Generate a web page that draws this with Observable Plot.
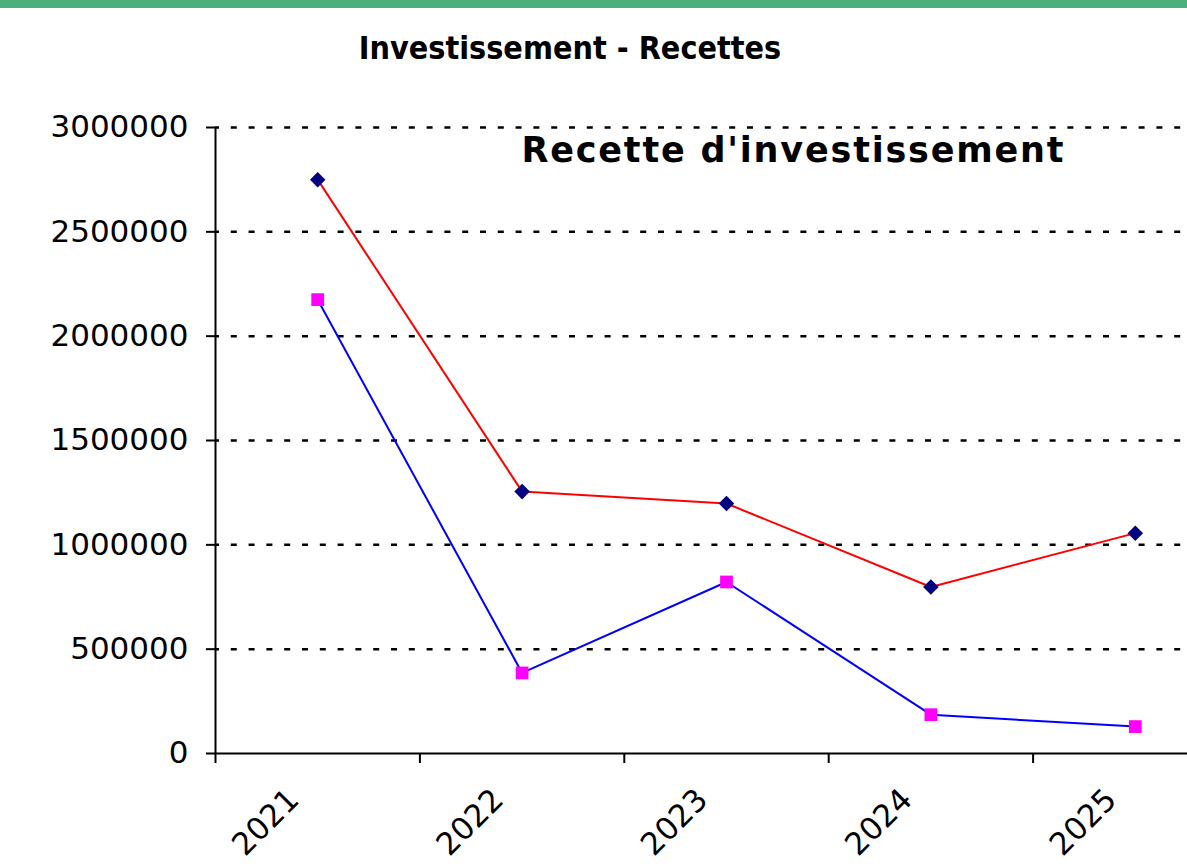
<!DOCTYPE html>
<html>
<head>
<meta charset="utf-8">
<script src="https://cdn.jsdelivr.net/npm/d3@7"></script>
<script src="https://cdn.jsdelivr.net/npm/@observablehq/plot@0.6"></script>
<style>
  html, body { margin: 0; padding: 0; background: #fff; overflow: hidden; }
  #page { width: 1187px; height: 866px; position: relative; overflow: hidden; }
  #bar { height: 8px; background: #4cb07e; }
  #title {
    height: 92px; box-sizing: border-box; padding-top: 24px;
    width: 1140px; text-align: center;
    font-family: "DejaVu Sans Condensed", "DejaVu Sans", sans-serif;
    font-stretch: condensed; font-weight: bold; font-size: 32px; line-height: 1; color: #000;
  }
  #chart svg { display: block; overflow: hidden; }
</style>
</head>
<body>
<div id="page">
  <div id="bar"></div>
  <div id="title">Investissement - Recettes</div>
  <div id="chart"></div>
</div>
<script>
// ---- data ----
const years = [2021, 2022, 2023, 2024, 2025];
const seriesRed = [2750000, 1255000, 1198000, 798000, 1056000];   // navy diamonds, red line
const seriesBlue = [2175000, 386000, 822000, 186000, 129000];     // magenta squares, blue line
const yTicks = [0, 500000, 1000000, 1500000, 2000000, 2500000, 3000000];
const innerTitle = "Recette d'investissement";

const redData = years.map((y, i) => ({year: y, value: seriesRed[i]}));
const blueData = years.map((y, i) => ({year: y, value: seriesBlue[i]}));
const boundaries = years.map(y => y - 0.5).concat([years[years.length - 1] + 0.5]);
const font = "DejaVu Sans, Verdana, sans-serif";

const plot = Plot.plot({
  width: 1187,
  height: 766,
  marginLeft: 215,
  marginRight: 0,
  marginTop: 27,
  marginBottom: 113,
  style: {fontFamily: font, color: "#000", background: "#fff"},
  x: {type: "linear", domain: [boundaries[0], boundaries[boundaries.length - 1]], range: [215, 1237]},
  y: {domain: [0, 3000000]},
  marks: [
    Plot.gridY(yTicks.filter(d => d > 0), {stroke: "#000", strokeOpacity: 1, strokeWidth: 2.5, strokeDasharray: "6,11.8", strokeDashoffset: 2}),
    Plot.axisY({ticks: yTicks, tickSize: 9, tickPadding: 18, tickFormat: d3.format("d"), fontSize: 31, stroke: "#000", strokeWidth: 2, label: null}),
    Plot.axisX({ticks: boundaries, tickSize: 10, tickFormat: () => "", stroke: "#000", strokeWidth: 2, label: null}),
    Plot.text(years, {x: d => d, frameAnchor: "bottom", text: d => String(d), rotate: -45, textAnchor: "end", lineAnchor: "middle", dx: -24, dy: 41, fontSize: 31, fill: "#000"}),
    Plot.ruleX([boundaries[0]], {stroke: "#000", strokeWidth: 2}),
    Plot.ruleY([0], {stroke: "#000", strokeWidth: 2}),
    Plot.line(redData, {x: "year", y: "value", stroke: "#ff0000", strokeWidth: 2}),
    Plot.line(blueData, {x: "year", y: "value", stroke: "#0000ff", strokeWidth: 2}),
    Plot.dot(redData, {x: "year", y: "value", symbol: "diamond2", r: 7, fill: "#000080", stroke: "none"}),
    Plot.dot(blueData, {x: "year", y: "value", symbol: "square", r: 7.2, fill: "#ff00ff", stroke: "none"}),
    Plot.text([innerTitle], {frameAnchor: "top-left", text: d => d, textAnchor: "start", lineAnchor: "top", dx: 306, dy: 10, fontSize: 35, fontWeight: "bold", fill: "#000"})
  ]
});
document.getElementById("chart").appendChild(plot);
d3.select(plot).selectAll("text")
  .filter(function() { return this.textContent === innerTitle; })
  .attr("letter-spacing", "1.8")
  .style("letter-spacing", "1.8px");
</script>
</body>
</html>
